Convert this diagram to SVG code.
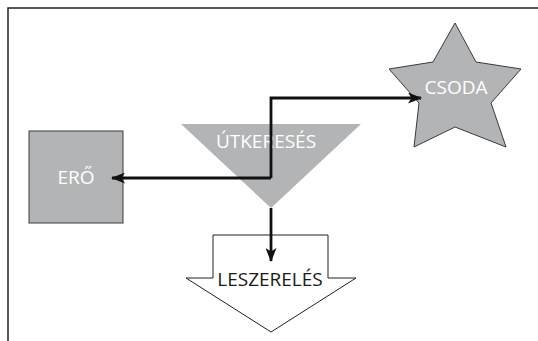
<svg xmlns="http://www.w3.org/2000/svg" width="538" height="341" viewBox="0 0 538 341">
<style>
.shape{fill:#b3b4b6;stroke:#3a3a3a;stroke-width:1}
.lbl{font-family:"Open Sans","Noto Sans",sans-serif;font-size:19px;text-anchor:middle}
.w{fill:#ffffff}
.k{fill:#1a1a1a}
.conn{fill:none;stroke:#111;stroke-width:2.8}
</style>
<defs>
<marker id="ah" viewBox="0 0 14 11" refX="13" refY="5.5" markerWidth="14" markerHeight="11" markerUnits="userSpaceOnUse" orient="auto">
<path d="M0,0 L14,5.5 L0,11 L3.5,5.5 Z" fill="#111"/>
</marker>
</defs>
<rect width="538" height="341" fill="#ffffff"/>
<path d="M8,341 V8 H538" fill="none" stroke="#222" stroke-width="1.5"/>
<g id="ero">
<rect class="shape" x="29" y="131" width="94" height="92" stroke="#555"/>
<text class="lbl w" x="76" y="184">ERŐ</text>
</g>
<g id="csoda">
<polygon class="shape" points="455,23 476,62 521,69 491,103 506,147 455,127 414,147 419,103 389,69 433,62"/>
<text class="lbl w" x="456" y="94">CSODA</text>
</g>
<g id="utkereses">
<polygon points="181,124 361,124 271,208" fill="#b3b4b6"/>
<text class="lbl w" x="266" y="148">ÚTKERESÉS</text>
</g>
<g id="leszereles">
<polygon points="213,235 328,235 328,278 356,278 271,332 186,278 213,278" fill="#fff" stroke="#222" stroke-width="1"/>
<text class="lbl k" x="270" y="286">LESZERELÉS</text>
</g>
<g id="connectors">
<path class="conn" d="M271,178 V98 H421" marker-end="url(#ah)"/>
<path class="conn" d="M271,178 H112" marker-end="url(#ah)"/>
<path class="conn" d="M271,208 V261" marker-end="url(#ah)"/>
</g>
</svg>
